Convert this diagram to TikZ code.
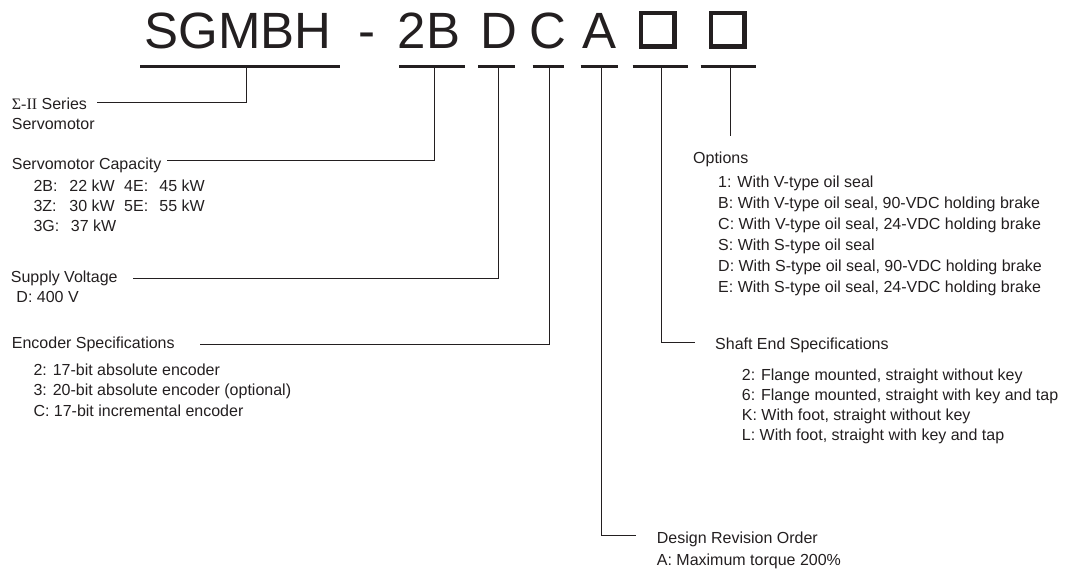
\documentclass[tikz,border=0pt]{standalone}
\usepackage{fontspec}
\setmainfont{Liberation Sans}
\newfontfamily\sigmafont{Liberation Serif}
\usetikzlibrary{positioning}
\newcommand{\colw}[2]{\makebox[#1][l]{#2}}
\definecolor{ink}{RGB}{35,31,32}
\tikzset{
  code/.style    = {anchor=base, inner sep=0pt, text=ink, font=\fontsize{51}{51}\selectfont},
  codebox/.style = {draw=ink, line width=4.5pt, minimum size=33.5pt, inner sep=0pt},
  uline/.style   = {draw=ink, line width=2.7pt},
  lead/.style    = {draw=ink, line width=1pt},
  head/.style    = {anchor=base west, inner sep=0pt, align=left, text=ink,
                    font=\fontsize{16}{21}\selectfont},
  lines/.style   = {head, font=\fontsize{16}{#1}\selectfont},
}

\begin{document}
\begin{tikzpicture}[x=1pt, y=-1pt]
\useasboundingbox (0,0) rectangle (1069,569);

% ---- the model number ----
\node[code] (c-series) at (238.3,48.3) {SGMBH};
\node[code] (c-dash)   at (366.7,48.3) {-};
\node[code] (c-cap)    at (429,48.3)   {2B};
\node[code] (c-volt)   at (499,48.3)   {D};
\node[code] (c-enc)    at (548.3,48.3) {C};
\node[code] (c-rev)    at (600,48.3)   {A};
\node[codebox] (c-shaft) at (657.5,30) {};
\node[codebox] (c-opt)   at (727.5,30) {};

% underlines and the foot of each stem
\foreach \n/\a/\b/\s in {series/140/340/246, cap/399.3/465/434, volt/478.3/515/498.3,
                         enc/532.7/564/549, rev/580.7/618.3/601, shaft/632.7/688.3/661.7,
                         opt/700.7/756/730}{
  \draw[uline] (\a,66.7) -- (\b,66.7);
  \coordinate (s-\n) at (\s,66.7);
}

% ---- left: series, capacity, voltage, encoder ----
% (multi-line nodes sit on the baseline of their last line)
\node[lines=20] (l-series) at (11.7,129.3) {{\sigmafont Σ-II} Series\\Servomotor};
\node[head] (l-cap) at (11.7,170) {Servomotor Capacity};
\node[lines=20.2] (v-cap) at (33.3,232)
  {\colw{36pt}{2B:}\colw{54.7pt}{22 kW}\colw{35.3pt}{4E:}45 kW\\
   \colw{36pt}{3Z:}\colw{54.7pt}{30 kW}\colw{35.3pt}{5E:}55 kW\\
   \colw{37.4pt}{3G:}37 kW};
\node[lines=20] (l-volt) at (10.7,302.3) {Supply Voltage\\\hspace*{5.6pt}D: 400 V};
\node[head] (l-enc) at (11.7,349) {Encoder Specifications};
\node[lines=20.85] (v-enc) at (33.3,416.7)
  {2: 17-bit absolute encoder\\
   3: 20-bit absolute encoder (optional)\\
   C: 17-bit incremental encoder};

% ---- right: options, shaft end, design revision ----
\node[head] (l-opt) at (693,163.3) {Options};
\node[lines=21.08] (v-opt) at (718,292.7)
  {1: With V-type oil seal\\
   B: With V-type oil seal, 90-VDC holding brake\\
   C: With V-type oil seal, 24-VDC holding brake\\
   S: With S-type oil seal\\
   D: With S-type oil seal, 90-VDC holding brake\\
   E: With S-type oil seal, 24-VDC holding brake};
\node[head] (l-shaft) at (715,349.5) {Shaft End Specifications};
\node[lines=19.9] (v-shaft) at (741.7,440.3)
  {2: Flange mounted, straight without key\\
   6: Flange mounted, straight with key and tap\\
   K: With foot, straight without key\\
   L: With foot, straight with key and tap};
\node[lines=21.7] (l-rev) at (656.7,565)
  {Design Revision Order\\A: Maximum torque 200\%};

% ---- leader lines ----
\coordinate (e-series) at (96.7,102.7);
\coordinate (e-cap)    at (166.5,161);
\coordinate (e-volt)   at (133,279);
\coordinate (e-enc)    at (200,344.3);
\coordinate (e-rev)    at (635.7,535.7);
\coordinate (e-shaft)  at (695,342.3);
\coordinate (e-opt)    at (730,136);
\draw[lead] (s-series) |- (e-series);
\draw[lead] (s-cap) |- (e-cap);
\draw[lead] (s-volt) |- (e-volt);
\draw[lead] (s-enc) |- (e-enc);
\draw[lead] (s-rev) |- (e-rev);
\draw[lead] (s-shaft) |- (e-shaft);
\draw[lead] (s-opt) -- (e-opt);

\end{tikzpicture}
\end{document}
